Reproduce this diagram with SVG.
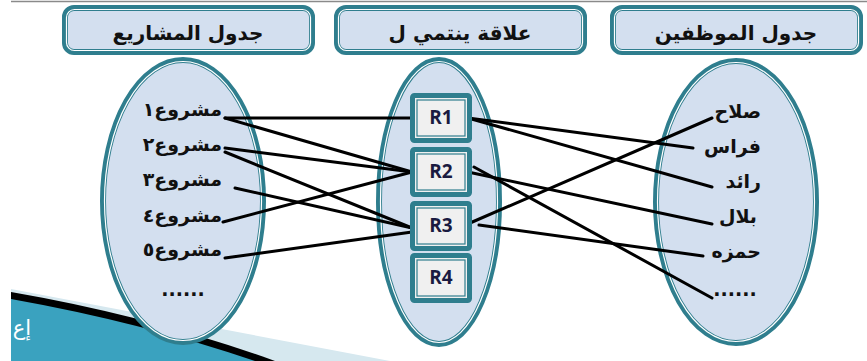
<svg xmlns="http://www.w3.org/2000/svg" width="867" height="361" viewBox="0 0 867 361">
<style>
.teal{fill:none;stroke:#2f7e8e;stroke-width:6}
.inner{fill:none;stroke:#ffffff;stroke-width:1.2}
.set{fill:#d3dfef}
.title{font-family:"DejaVu Sans",sans-serif;font-weight:bold;font-size:20px;fill:#111;text-anchor:middle}
.item{font-family:"DejaVu Sans",sans-serif;font-weight:bold;font-size:19px;fill:#111;text-anchor:end}
.dots{font-family:"DejaVu Sans",sans-serif;font-weight:bold;font-size:19px;fill:#111;text-anchor:middle}
.rbox{fill:#f0f0f0;stroke:#2f7e8e;stroke-width:5}
.rin{fill:none;stroke:#2f7e8e;stroke-width:1.2}
.rlab{font-family:"Open Sans",sans-serif;font-weight:bold;font-size:19px;fill:#1a1a40;text-anchor:middle}
.conn line{stroke:#000;stroke-width:3;stroke-linecap:round}
</style>
<rect x="0" y="0" width="867" height="361" fill="#ffffff"/>
<line x1="11" y1="1.5" x2="867" y2="1.5" stroke="#8a8a8a" stroke-width="1.5"/>
<g id="corner-decoration">
<path d="M11,289 L390,361 L11,361 Z" fill="#d6e8ef"/>
<path d="M11,292 Q150,316 275,361 L11,361 Z" fill="#000"/>
<path d="M11,299 Q140,322 255,361 L11,361 Z" fill="#3aa2bf"/>
<text x="31" y="335" font-family="DejaVu Sans,sans-serif" font-size="21" fill="#ffffff" text-anchor="end">إع</text>
</g>

<g id="title-projects">
<rect x="65" y="8" width="247" height="44" rx="9" class="set"/>
<rect x="65" y="8" width="247" height="44" rx="9" class="teal"/>
<rect x="66.5" y="9.5" width="244" height="41" rx="8" class="inner"/>
<text x="188" y="40" class="title">جدول المشاريع</text>
</g>
<g id="title-relation">
<rect x="337" y="8" width="247" height="44" rx="9" class="set"/>
<rect x="337" y="8" width="247" height="44" rx="9" class="teal"/>
<rect x="338.5" y="9.5" width="244" height="41" rx="8" class="inner"/>
<text x="460" y="40" class="title">علاقة ينتمي ل</text>
</g>
<g id="title-employees">
<rect x="613" y="8" width="247" height="44" rx="9" class="set"/>
<rect x="613" y="8" width="247" height="44" rx="9" class="teal"/>
<rect x="614.5" y="9.5" width="244" height="41" rx="8" class="inner"/>
<text x="736" y="40" class="title">جدول الموظفين</text>
</g>

<g id="set-projects">
<ellipse cx="183" cy="201" rx="80" ry="141" class="set"/>
<ellipse cx="183" cy="201" rx="80" ry="141" class="teal"/>
<ellipse cx="183" cy="201" rx="78.5" ry="139.5" class="inner"/>
</g>
<g id="set-relation">
<ellipse cx="439" cy="202" rx="60" ry="142" class="set"/>
<ellipse cx="439" cy="202" rx="60" ry="142" class="teal"/>
<ellipse cx="439" cy="202" rx="58.5" ry="140.5" class="inner"/>
</g>
<g id="set-employees">
<ellipse cx="736" cy="202" rx="80" ry="141" class="set"/>
<ellipse cx="736" cy="202" rx="80" ry="141" class="teal"/>
<ellipse cx="736" cy="202" rx="78.5" ry="139.5" class="inner"/>
</g>

<g id="connectors" class="conn">
<line x1="225" y1="118" x2="410" y2="118"/>
<line x1="225" y1="118" x2="412" y2="172"/>
<line x1="225" y1="148" x2="412" y2="172"/>
<line x1="225" y1="152" x2="412" y2="228"/>
<line x1="235" y1="188" x2="412" y2="228"/>
<line x1="223" y1="222" x2="412" y2="172"/>
<line x1="225" y1="258" x2="412" y2="232"/>
<line x1="468" y1="118" x2="693" y2="148"/>
<line x1="468" y1="118" x2="712" y2="187"/>
<line x1="468" y1="172" x2="712" y2="224"/>
<line x1="474" y1="167" x2="712" y2="298"/>
<line x1="470" y1="223" x2="712" y2="118"/>
<line x1="479" y1="225" x2="703" y2="256"/>
</g>

<g id="r1">
<rect x="412.5" y="95.5" width="57" height="45" rx="2" class="rbox"/>
<rect x="417" y="100" width="48" height="36" class="rin"/>
<text x="441" y="124" class="rlab">R1</text>
</g>
<g id="r2">
<rect x="412.5" y="149.5" width="57" height="45" rx="2" class="rbox"/>
<rect x="417" y="154" width="48" height="36" class="rin"/>
<text x="441" y="178" class="rlab">R2</text>
</g>
<g id="r3">
<rect x="412.5" y="203.5" width="57" height="45" rx="2" class="rbox"/>
<rect x="417" y="208" width="48" height="36" class="rin"/>
<text x="441" y="232" class="rlab">R3</text>
</g>
<g id="r4">
<rect x="412.5" y="255.5" width="57" height="45" rx="2" class="rbox"/>
<rect x="417" y="260" width="48" height="36" class="rin"/>
<text x="441" y="284" class="rlab">R4</text>
</g>

<g id="project-items">
<text x="222" y="116" class="item">مشروع١</text>
<text x="222" y="151" class="item">مشروع٢</text>
<text x="222" y="186" class="item">مشروع٣</text>
<text x="222" y="222" class="item">مشروع٤</text>
<text x="222" y="256" class="item">مشروع٥</text>
<text x="183" y="296" class="dots">......</text>
</g>
<g id="employee-items">
<text x="761" y="118" class="item">صلاح</text>
<text x="761" y="153" class="item">فراس</text>
<text x="761" y="188" class="item">رائد</text>
<text x="757" y="223" class="item">بلال</text>
<text x="761" y="258" class="item">حمزه</text>
<text x="735" y="296" class="dots">......</text>
</g>
</svg>
